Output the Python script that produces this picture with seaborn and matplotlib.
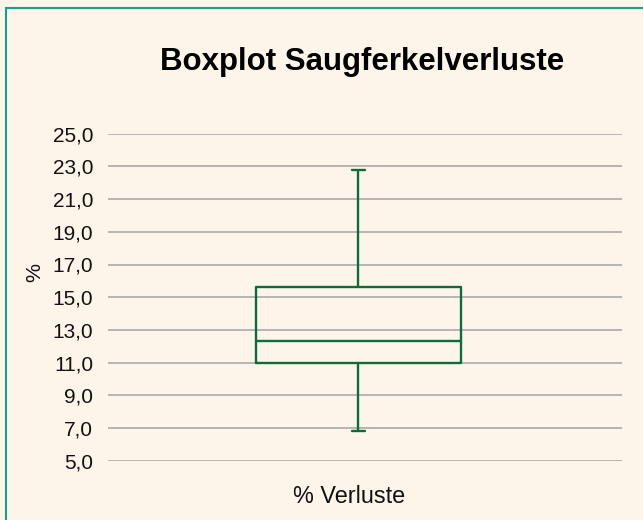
import numpy as np
import pandas as pd
import matplotlib
matplotlib.use("Agg")
import matplotlib.pyplot as plt
from matplotlib.patches import Rectangle
from matplotlib.ticker import FuncFormatter, FixedLocator
import seaborn as sns

# Kennwerte der Saugferkelverluste (Min, Q1, Median, Q3, Max) in %
kategorie = ["% Verluste"]
verluste = [6.8, 11.0, 12.3, 15.6, 22.8]
y_ticks = [5, 7, 9, 11, 13, 15, 17, 19, 21, 23, 25]

bg = "#fdf5e9"
green = "#0f6b3b"
teal = "#1a9e8f"

sns.set_theme(style="white")
plt.rcParams["font.family"] = ["Liberation Sans", "DejaVu Sans"]

df = pd.DataFrame({"kategorie": kategorie * len(verluste), "wert": verluste})

fig = plt.figure(figsize=(6.43, 5.2), dpi=100, facecolor=bg)
ax = fig.add_axes([108 / 643, 1 - 460.7 / 520, 514 / 643, 327 / 520])
ax.set_facecolor(bg)

sns.boxplot(data=df, x="kategorie", y="wert", ax=ax, fill=False, color=green,
            width=0.4, whis=(0, 100), linewidth=1.7, capwidths=0.025, zorder=3)

ax.set_xlim(-0.487, 0.513)
ax.set_ylim(5, 25)
ax.yaxis.set_major_locator(FixedLocator(y_ticks))
ax.yaxis.set_major_formatter(FuncFormatter(lambda v, p: f"{v:.1f}".replace(".", ",")))
ax.yaxis.grid(True, color="#a3a3a3", linewidth=1.1, zorder=0)
ax.set_axisbelow(True)
for s in ax.spines.values():
    s.set_visible(False)
ax.tick_params(axis="y", length=0, pad=10.8, labelsize=15, labelcolor="#111111")
ax.set_xticks([])

ax.set_xlabel("% Verluste", fontsize=16.8, color="#111111")
ax.xaxis.set_label_coords(0.469, -0.129)
ax.xaxis.label.set_va("baseline")
ax.set_ylabel("%", fontsize=15.4, color="#111111")
ax.yaxis.set_label_coords(-0.142, 0.575)
ax.yaxis.label.set_va("center")

fig.text(362.5 / 643, 1 - 70 / 520, "Boxplot Saugferkelverluste", ha="center",
         va="baseline", fontsize=22.5, fontweight="bold", color="#000000")

fig.patches.append(Rectangle((5.5 / 643, -0.1), 1.2, 1.1 - 8.5 / 520, transform=fig.transFigure,
                             fill=False, edgecolor=teal, linewidth=1.5))

fig.savefig("out.png", dpi=100, facecolor=bg)
